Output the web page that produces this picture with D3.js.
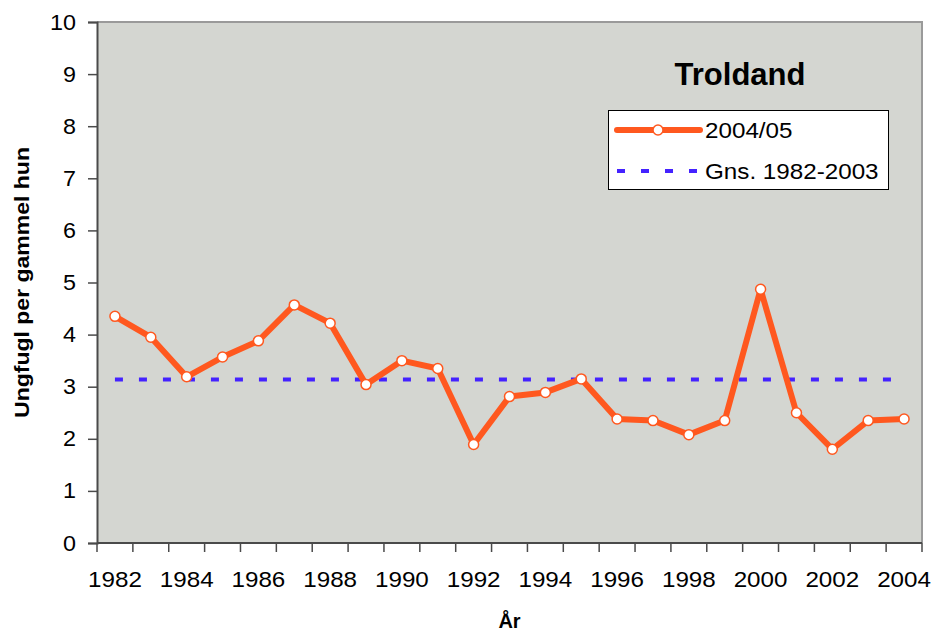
<!DOCTYPE html>
<html>
<head>
<meta charset="utf-8">
<script src="https://cdn.jsdelivr.net/npm/d3@7"></script>
<style>
  body { margin: 0; background: #fff; }
  text { font-family: "Liberation Sans", Arial, sans-serif; fill: #000; }
</style>
</head>
<body>
<svg width="934" height="633"></svg>
<script>
// Troldand - ungfugl per gammel hun
var years = ["1982","1983","1984","1985","1986","1987","1988","1989","1990","1991","1992",
             "1993","1994","1995","1996","1997","1998","1999","2000","2001","2002","2003","2004"];
var values = [4.35, 3.95, 3.19, 3.57, 3.88, 4.57, 4.22, 3.04, 3.50, 3.35, 1.89,
              2.81, 2.89, 3.15, 2.38, 2.35, 2.08, 2.35, 4.87, 2.50, 1.80, 2.35, 2.38];
var average = 3.14;
var tickLabels = ["1982","1984","1986","1988","1990","1992","1994","1996","1998","2000","2002","2004"];
var seriesNames = ["2004/05", "Gns. 1982-2003"];

var svg = d3.select("svg"),
    plotLeft = 97, plotRight = 922, plotTop = 22, plotBottom = 543;

var orange = "#ff581f", blue = "#4422ff";

var x = d3.scaleBand().domain(years).range([plotLeft, plotRight]);
var y = d3.scaleLinear().domain([0, 10]).range([plotBottom, plotTop]);

// stretch text a bit wider, the original font runs wide
function stretch(sel, k) {
  sel.each(function() {
    var w = this.getComputedTextLength();
    d3.select(this).attr("textLength", w * k).attr("lengthAdjust", "spacingAndGlyphs");
  });
}

// plot area
svg.append("rect")
    .attr("x", plotLeft).attr("y", plotTop)
    .attr("width", plotRight - plotLeft).attr("height", plotBottom - plotTop)
    .attr("fill", "#d4d6d1");
svg.append("path")
    .attr("d", "M" + plotLeft + "," + plotTop + "H" + plotRight + "V" + plotBottom)
    .attr("fill", "none").attr("stroke", "#9a9a9a").attr("stroke-width", 2);

// y axis
var yAxis = svg.append("g")
    .attr("transform", "translate(" + plotLeft + ",0)")
    .call(d3.axisLeft(y).ticks(10).tickSize(9).tickPadding(12));
yAxis.select(".domain").attr("stroke", "#4a4a4a").attr("stroke-width", 2);
yAxis.selectAll(".tick line").attr("stroke", "#4a4a4a").attr("stroke-width", 1.5);
yAxis.selectAll("text").style("font-size", "22px");
stretch(yAxis.selectAll("text"), 1.06);

// x axis: labels in band centres, ticks on band edges
var xAxis = svg.append("g")
    .attr("transform", "translate(0," + plotBottom + ")")
    .call(d3.axisBottom(x).tickSize(0).tickPadding(28)
      .tickFormat(function(d) { return tickLabels.indexOf(d) >= 0 ? d : ""; }));
xAxis.select(".domain").remove();
xAxis.selectAll("text").style("font-size", "22px");
stretch(xAxis.selectAll("text"), 1.1);

xAxis.selectAll(".edge")
    .data(d3.range(years.length + 1))
    .enter().append("line")
      .attr("x1", function(i) { return plotLeft + i * x.step(); })
      .attr("x2", function(i) { return plotLeft + i * x.step(); })
      .attr("y1", 0).attr("y2", 9)
      .attr("stroke", "#4a4a4a").attr("stroke-width", 1.5);
svg.append("line")
    .attr("x1", plotLeft).attr("x2", plotRight)
    .attr("y1", plotBottom).attr("y2", plotBottom)
    .attr("stroke", "#4a4a4a").attr("stroke-width", 2);

// axis titles
var yTitle = svg.append("text")
    .attr("transform", "translate(29," + ((plotTop + plotBottom) / 2) + ") rotate(-90)")
    .attr("text-anchor", "middle")
    .style("font-size", "20px").style("font-weight", "bold")
    .text("Ungfugl per gammel hun");
stretch(yTitle, 1.15);

svg.append("text")
    .attr("x", (plotLeft + plotRight) / 2).attr("y", 628)
    .attr("text-anchor", "middle")
    .style("font-size", "20px").style("font-weight", "bold")
    .text("År");

// chart title
svg.append("text")
    .attr("x", 740).attr("y", 85)
    .attr("text-anchor", "middle")
    .style("font-size", "31px").style("font-weight", "bold")
    .text("Troldand");

// average line
var cx = function(d) { return x(d) + x.bandwidth() / 2; };
svg.append("line")
    .attr("x1", cx(years[0])).attr("x2", cx(years[years.length - 1]))
    .attr("y1", y(average)).attr("y2", y(average))
    .attr("stroke", blue).attr("stroke-width", 4)
    .attr("stroke-dasharray", "8,16");

// series
var line = d3.line()
    .x(function(d, i) { return cx(years[i]); })
    .y(function(d) { return y(d); });

svg.append("path")
    .datum(values)
    .attr("fill", "none")
    .attr("stroke", orange)
    .attr("stroke-width", 6)
    .attr("stroke-linejoin", "round")
    .attr("d", line);

svg.append("g")
  .selectAll("circle")
  .data(values)
  .enter().append("circle")
    .attr("cx", function(d, i) { return cx(years[i]); })
    .attr("cy", function(d) { return y(d); })
    .attr("r", 5)
    .attr("fill", "#fff")
    .attr("stroke", orange)
    .attr("stroke-width", 1.5);

// legend
var legend = svg.append("g");
legend.append("rect")
    .attr("x", 608.5).attr("y", 110.5)
    .attr("width", 280).attr("height", 79)
    .attr("fill", "#fff").attr("stroke", "#000").attr("stroke-width", 1);

legend.append("line")
    .attr("x1", 617).attr("x2", 700).attr("y1", 130).attr("y2", 130)
    .attr("stroke", orange).attr("stroke-width", 6).attr("stroke-linecap", "round");
legend.append("circle")
    .attr("cx", 658).attr("cy", 130).attr("r", 5)
    .attr("fill", "#fff").attr("stroke", orange).attr("stroke-width", 1.5);
legend.append("line")
    .attr("x1", 617).attr("x2", 700).attr("y1", 171).attr("y2", 171)
    .attr("stroke", blue).attr("stroke-width", 4).attr("stroke-dasharray", "8,16");

var legText = legend.selectAll("text.leg")
    .data(seriesNames)
    .enter().append("text")
      .attr("class", "leg")
      .attr("x", 705)
      .attr("y", function(d, i) { return 138 + i * 41; })
      .style("font-size", "22px")
      .text(function(d) { return d; });
stretch(legText, 1.1);
</script>
</body>
</html>
